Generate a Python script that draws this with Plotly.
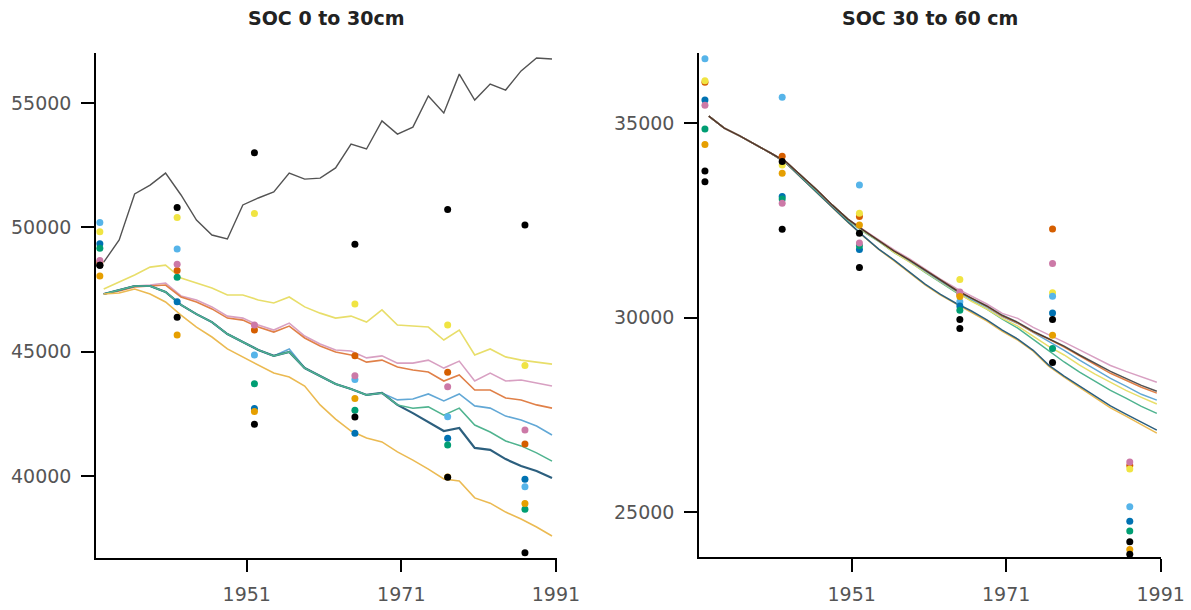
import plotly.graph_objects as go

# ---------------- data ----------------
line_years = [1932.5, 1934.5, 1936.5, 1938.5, 1940.5, 1942.5, 1944.5, 1946.5, 1948.5, 1950.5,
              1952.5, 1954.5, 1956.5, 1958.5, 1960.5, 1962.5, 1964.5, 1966.5, 1968.5, 1970.5,
              1972.5, 1974.5, 1976.5, 1978.5, 1980.5, 1982.5, 1984.5, 1986.5, 1988.5, 1990.5]
obs_years = [1932, 1942, 1952, 1965, 1977, 1987]

x_tick_vals = [1951, 1971, 1991]
x_tick_text = ["1951", "1971", "1991"]
y0_tick_vals = [40000, 45000, 50000, 55000]
y0_tick_text = ["40000", "45000", "50000", "55000"]
y1_tick_vals = [25000, 30000, 35000]
y1_tick_text = ["25000", "30000", "35000"]

titles = ["SOC 0 to 30cm", "SOC 30 to 60 cm"]

# --- SOC 0-30 cm simulated lines ---
soc0_line_black = [48600, 49490, 51340, 51700, 52180, 51300, 50290, 49690, 49530, 50900,
                   51180, 51420, 52180, 51940, 51980, 52390, 53350, 53150, 54280, 53750,
                   54030, 55280, 54600, 56160, 55120, 55760, 55520, 56290, 56810, 56770]
soc0_line_yellow = [47520, 47800, 48080, 48400, 48480, 47960, 47760, 47560, 47280, 47280,
                    47080, 46960, 47200, 46800, 46550, 46350, 46430, 46190, 46680, 46070,
                    46030, 45990, 45470, 45870, 44870, 45110, 44790, 44660, 44580, 44500]
soc0_line_pink = [47320, 47480, 47640, 47680, 47760, 47240, 47080, 46800, 46430, 46350,
                  46070, 45870, 46150, 45630, 45310, 45070, 45030, 44750, 44830, 44540,
                  44540, 44660, 44340, 44620, 43820, 44140, 43820, 43860, 43740, 43620]
soc0_line_verm = [47320, 47440, 47600, 47640, 47680, 47200, 47000, 46720, 46350, 46270,
                  45990, 45790, 46030, 45550, 45230, 44990, 44870, 44580, 44660, 44380,
                  44260, 44180, 43820, 44060, 43460, 43460, 43140, 43060, 42860, 42730]
soc0_line_sky = [47320, 47480, 47640, 47640, 47400, 46880, 46510, 46190, 45710, 45390,
                 45070, 44830, 45110, 44340, 44020, 43700, 43500, 43260, 43340, 43060,
                 43100, 43300, 43020, 43300, 42820, 42730, 42410, 42250, 42010, 41650]
soc0_line_green = [47320, 47480, 47640, 47640, 47400, 46880, 46510, 46190, 45710, 45390,
                   45070, 44830, 44990, 44340, 44020, 43700, 43500, 43260, 43340, 42860,
                   42730, 42780, 42450, 42730, 42050, 41770, 41410, 41210, 40930, 40600]
soc0_line_blue = [47320, 47480, 47640, 47640, 47400, 46880, 46510, 46190, 45710, 45390,
                  45070, 44830, 44990, 44340, 44020, 43700, 43500, 43260, 43340, 42860,
                  42530, 42170, 41810, 41930, 41130, 41050, 40680, 40400, 40200, 39920]
soc0_line_orange = [47320, 47360, 47520, 47320, 47000, 46470, 45990, 45590, 45110, 44790,
                    44460, 44140, 43980, 43620, 42860, 42290, 41810, 41530, 41370, 40970,
                    40640, 40280, 39880, 39800, 39120, 38910, 38550, 38270, 37950, 37590]

# --- SOC 0-30 cm observations ---
soc0_obs_black_a = [48480, 50800, 53000, 49320, 50720, 50090]
soc0_obs_black_b = [48480, 46380, 42080, 42370, 39950, 36920]
soc0_obs_orange = [48040, 45670, 42590, 43120, 39960, 38900]
soc0_obs_sky = [50190, 49130, 44870, 43880, 42380, 39570]
soc0_obs_green = [49160, 47990, 43710, 42640, 41250, 38660]
soc0_obs_yellow = [49820, 50400, 50560, 46920, 46070, 44440]
soc0_obs_blue = [49340, 47010, 42720, 41720, 41520, 39870]
soc0_obs_verm = [48600, 48260, 45870, 44840, 44170, 41290]
soc0_obs_pink = [48670, 48520, 46070, 44030, 43590, 41850]

# --- SOC 30-60 cm simulated lines ---
soc30_line_black = [35180, 34870, 34670, 34460, 34230, 34000, 33640, 33280, 32890, 32530,
                    32250, 31990, 31710, 31480, 31220, 30960, 30710, 30500, 30300, 30060,
                    29880, 29650, 29470, 29270, 29040, 28830, 28620, 28440, 28260, 28110]
soc30_line_pink = [35180, 34870, 34670, 34460, 34230, 34000, 33640, 33280, 32890, 32530,
                   32260, 32000, 31740, 31510, 31250, 30990, 30760, 30550, 30350, 30110,
                   29980, 29750, 29570, 29370, 29170, 28980, 28770, 28620, 28470, 28340]
soc30_line_verm = [35180, 34870, 34670, 34460, 34230, 34000, 33640, 33280, 32890, 32530,
                   32250, 31990, 31710, 31480, 31220, 30960, 30710, 30500, 30290, 30040,
                   29860, 29630, 29450, 29240, 29010, 28780, 28570, 28390, 28210, 28060]
soc30_line_sky = [35180, 34870, 34670, 34460, 34230, 34000, 33640, 33280, 32890, 32530,
                  32240, 31980, 31700, 31460, 31200, 30940, 30690, 30480, 30270, 30030,
                  29850, 29620, 29400, 29160, 28910, 28680, 28440, 28240, 28030, 27880]
soc30_line_yellow = [35180, 34870, 34670, 34460, 34230, 34000, 33640, 33280, 32890, 32530,
                     32220, 31970, 31680, 31430, 31170, 30910, 30660, 30420, 30220, 29980,
                     29780, 29520, 29260, 29040, 28780, 28550, 28340, 28130, 27950, 27780]
soc30_line_green = [35180, 34870, 34670, 34460, 34230, 33990, 33620, 33250, 32860, 32500,
                    32210, 31960, 31670, 31440, 31160, 30900, 30650, 30440, 30220, 29960,
                    29730, 29440, 29140, 28860, 28600, 28370, 28130, 27930, 27720, 27540]
soc30_line_blue = [35180, 34870, 34670, 34460, 34230, 33970, 33590, 33200, 32820, 32460,
                   32100, 31760, 31480, 31170, 30860, 30600, 30370, 30170, 29940, 29680,
                   29450, 29160, 28780, 28500, 28240, 27980, 27730, 27520, 27310, 27110]
soc30_line_orange = [35180, 34870, 34670, 34460, 34230, 33970, 33590, 33200, 32810, 32450,
                     32090, 31750, 31460, 31150, 30840, 30580, 30350, 30140, 29910, 29650,
                     29420, 29140, 28750, 28470, 28200, 27940, 27680, 27470, 27250, 27030]

# --- SOC 30-60 cm observations ---
soc30_obs_black_a = [33770, 34010, 32170, 29950, 29950, 24240]
soc30_obs_black_b = [33490, 32270, 31290, 29720, 28850, 23920]
soc30_obs_orange = [34450, 33710, 32380, 30540, 29550, 24040]
soc30_obs_sky = [36650, 35660, 33410, 30410, 30550, 25140]
soc30_obs_green = [34850, 33050, 31850, 30190, 29210, 24520]
soc30_obs_yellow = [36090, 33920, 32680, 30980, 30640, 26110]
soc30_obs_blue = [35590, 33110, 31750, 30300, 30120, 24770]
soc30_obs_verm = [36050, 34150, 32600, 30590, 32280, 26200]
soc30_obs_pink = [35460, 32940, 31920, 30660, 31390, 26290]

# ---------------- styling ----------------
C = {
    "black": "#000000", "orange": "#E69F00", "sky": "#56B4E9", "green": "#009E73",
    "yellow": "#F0E442", "blue": "#0072B2", "verm": "#D55E00", "pink": "#CC79A7",
}
line_colors = {
    "black": "rgba(40,40,40,0.8)", "yellow": "#E8DE6A", "pink": "#D8A0C2", "verm": "#E08048",
    "sky": "#62A8D6", "green": "#4FB38F", "blue": "#2C5F7E", "orange": "#EBBA52",
}
line_widths = {
    "black": 1.4, "yellow": 1.6, "pink": 1.6, "verm": 1.6,
    "sky": 1.6, "green": 1.5, "blue": 2.2, "orange": 1.6,
}

fig = go.Figure()

left_lines = [("yellow", soc0_line_yellow), ("pink", soc0_line_pink), ("verm", soc0_line_verm),
              ("sky", soc0_line_sky), ("blue", soc0_line_blue), ("green", soc0_line_green),
              ("orange", soc0_line_orange), ("black", soc0_line_black)]
right_lines = [("orange", soc30_line_orange), ("blue", soc30_line_blue), ("green", soc30_line_green),
               ("yellow", soc30_line_yellow), ("sky", soc30_line_sky), ("pink", soc30_line_pink),
               ("verm", soc30_line_verm), ("black", soc30_line_black)]
left_obs = [("yellow", soc0_obs_yellow), ("sky", soc0_obs_sky), ("blue", soc0_obs_blue),
            ("green", soc0_obs_green), ("verm", soc0_obs_verm), ("pink", soc0_obs_pink),
            ("orange", soc0_obs_orange), ("black", soc0_obs_black_a), ("black", soc0_obs_black_b)]
right_obs = [("verm", soc30_obs_verm), ("yellow", soc30_obs_yellow), ("sky", soc30_obs_sky),
             ("blue", soc30_obs_blue), ("green", soc30_obs_green), ("pink", soc30_obs_pink),
             ("orange", soc30_obs_orange), ("black", soc30_obs_black_a), ("black", soc30_obs_black_b)]

for (lines, obs, xa, ya) in [(left_lines, left_obs, "x", "y"), (right_lines, right_obs, "x2", "y2")]:
    for name, vals in lines:
        w = line_widths[name] if xa == "x" else 1.5
        fig.add_trace(go.Scatter(x=line_years, y=vals, mode="lines", xaxis=xa, yaxis=ya,
                                 line=dict(color=line_colors[name], width=w),
                                 hoverinfo="skip", showlegend=False))
    for name, vals in obs:
        fig.add_trace(go.Scatter(x=obs_years, y=vals, mode="markers", xaxis=xa, yaxis=ya,
                                 marker=dict(color=C[name], size=7, line=dict(width=0)),
                                 cliponaxis=False, showlegend=False))

tick_font = dict(family="DejaVu Sans", size=19, color="#555555")
axis_common = dict(showline=True, linecolor="black", linewidth=1.5, ticks="outside",
                   ticklen=13, tickwidth=1.5, tickcolor="black", showgrid=False,
                   zeroline=False, tickfont=tick_font, automargin=False,
                   ticklabelstandoff=6)

fig.update_layout(
    width=1191, height=610,
    autosize=False,
    margin=dict(l=0, r=0, t=0, b=0, autoexpand=False),
    paper_bgcolor="white", plot_bgcolor="white",
    showlegend=False,
    xaxis=dict(domain=[0.0806, 0.4677], range=[1931.5, 1991.15], anchor="y",
               tickvals=x_tick_vals, ticktext=x_tick_text, **axis_common),
    yaxis=dict(domain=[0.0857, 0.9131], range=[36715, 57009], anchor="x",
               tickvals=y0_tick_vals, ticktext=y0_tick_text, **axis_common),
    xaxis2=dict(domain=[0.5869, 0.9748], range=[1931.23, 1991.04], anchor="y2",
                tickvals=x_tick_vals, ticktext=x_tick_text, **axis_common),
    yaxis2=dict(domain=[0.0865, 0.9131], range=[23843, 36800], anchor="x2",
                tickvals=y1_tick_vals, ticktext=y1_tick_text, **axis_common),
    annotations=[
        dict(text="<b>" + titles[0] + "</b>", x=0.2741, y=0.9705, xref="paper", yref="paper",
             xanchor="center", yanchor="middle", showarrow=False,
             font=dict(family="DejaVu Sans", size=19, color="#222222")),
        dict(text="<b>" + titles[1] + "</b>", x=0.7809, y=0.9705, xref="paper", yref="paper",
             xanchor="center", yanchor="middle", showarrow=False,
             font=dict(family="DejaVu Sans", size=19, color="#222222")),
    ],
)

fig.write_html("out.html")
